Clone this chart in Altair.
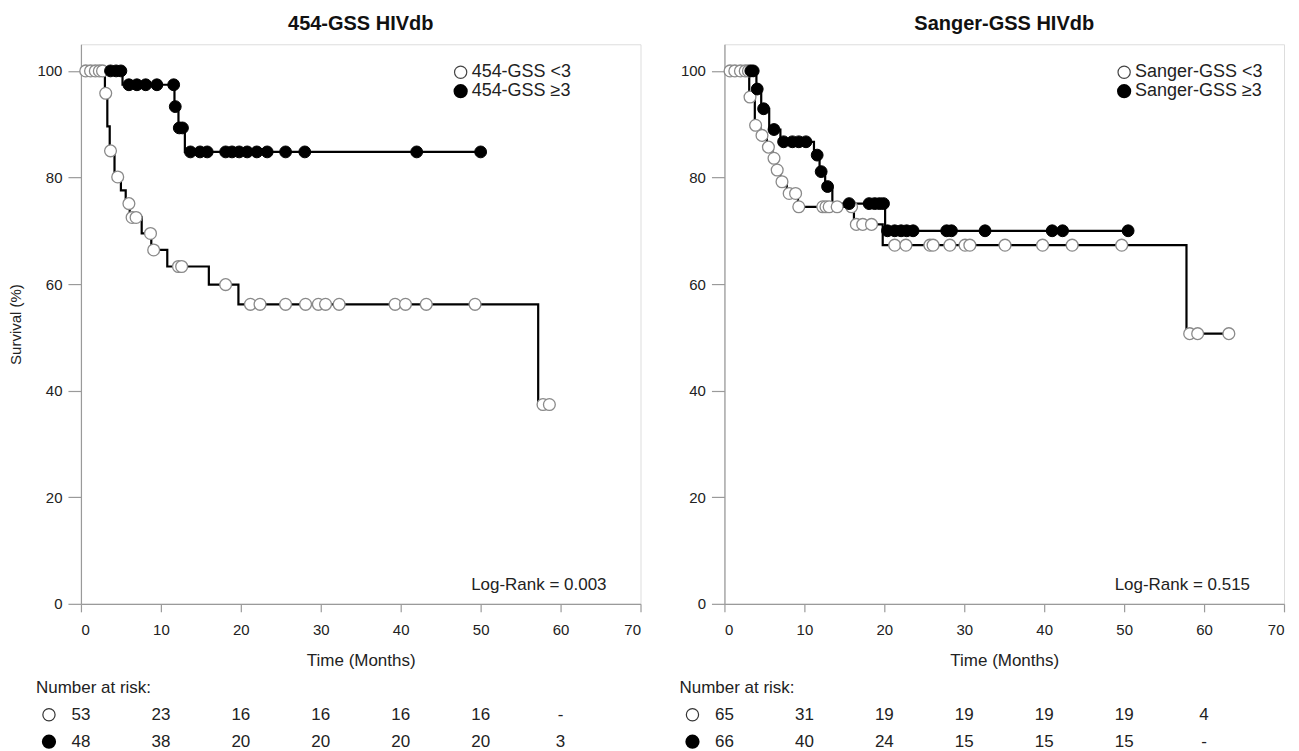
import altair as alt
import pandas as pd

# ---------------- data ----------------
# Left panel: 454-GSS HIVdb
L_open_step_t = [0, 3.0, 3.3, 3.6, 4.2, 5.0, 5.6, 6.1, 7.6, 8.8, 10.8, 16.0, 19.7, 57.2, 58.6]
L_open_step_s = [100, 95.8, 89.6, 85.0, 80.1, 77.6, 75.1, 72.5, 69.5, 66.4, 63.3, 59.9, 56.2, 37.4, 37.4]
L_open_cens_t = [0.6, 1.2, 1.8, 2.3, 2.7, 3.1, 3.7, 4.6, 6.0, 6.4, 6.9, 8.7, 9.1, 12.2, 12.6, 18.1,
                 21.2, 22.4, 25.6, 28.1, 29.7, 30.6, 32.3, 39.3, 40.6, 43.2, 49.3, 57.8, 58.6]
L_open_cens_s = [100, 100, 100, 100, 100, 95.8, 85.0, 80.1, 75.1, 72.5, 72.5, 69.5, 66.4, 63.3, 63.3, 59.9,
                 56.2, 56.2, 56.2, 56.2, 56.2, 56.2, 56.2, 56.2, 56.2, 56.2, 56.2, 37.4, 37.4]
L_fill_step_t = [0, 5.2, 11.7, 12.2, 13.0, 50.0]
L_fill_step_s = [100, 97.4, 93.3, 89.3, 84.8, 84.8]
L_fill_cens_t = [3.7, 4.4, 5.0, 6.0, 7.0, 8.1, 9.5, 11.6, 11.8, 12.3, 12.7, 13.7, 14.9, 15.8, 18.1,
                 18.9, 19.8, 20.8, 22.0, 23.3, 25.6, 28.0, 42.0, 50.0]
L_fill_cens_s = [100, 100, 100, 97.4, 97.4, 97.4, 97.4, 97.4, 93.3, 89.3, 89.3, 84.8, 84.8, 84.8, 84.8,
                 84.8, 84.8, 84.8, 84.8, 84.8, 84.8, 84.8, 84.8, 84.8]
L_legend = ["454-GSS <3", "454-GSS \u22653"]
L_logrank = "Log-Rank = 0.003"
L_risk_open = ["53", "23", "16", "16", "16", "16", "-"]
L_risk_fill = ["48", "38", "20", "20", "20", "20", "3"]

# Right panel: Sanger-GSS HIVdb
R_open_step_t = [0, 3.1, 3.8, 4.5, 5.3, 6.0, 6.5, 7.0, 7.8, 9.2, 16.2, 19.8, 57.8, 63.1]
R_open_step_s = [100, 95.1, 89.8, 87.9, 85.7, 83.6, 81.4, 79.2, 77.0, 74.5, 71.2, 67.3, 50.7, 50.7]
R_open_cens_t = [0.7, 1.3, 2.0, 2.6, 3.0, 3.2, 3.9, 4.7, 5.5, 6.2, 6.6, 7.2, 8.1, 8.9, 9.3, 12.3, 12.7,
                 13.1, 14.1, 15.9, 16.5, 17.3, 18.4, 21.3, 22.7, 25.7, 26.1, 28.2, 30.1, 30.7, 35.1,
                 39.8, 43.5, 49.7, 58.2, 59.2, 63.1]
R_open_cens_s = [100, 100, 100, 100, 100, 95.1, 89.8, 87.9, 85.7, 83.6, 81.4, 79.2, 77.0, 77.0, 74.5,
                 74.5, 74.5, 74.5, 74.5, 74.5, 71.2, 71.2, 71.2, 67.3, 67.3, 67.3, 67.3, 67.3, 67.3,
                 67.3, 67.3, 67.3, 67.3, 67.3, 50.7, 50.7, 50.7]
R_fill_step_t = [0, 4.0, 4.6, 5.6, 7.0, 11.2, 11.9, 12.6, 13.5, 20.1, 50.5]
R_fill_step_s = [100, 96.6, 92.9, 89.0, 86.7, 84.2, 81.1, 78.3, 75.1, 70.0, 70.0]
R_fill_cens_t = [3.3, 3.6, 4.1, 4.9, 6.2, 7.4, 8.5, 9.3, 10.2, 11.6, 12.1, 12.9, 15.6, 18.1, 18.8,
                 19.4, 19.9, 20.4, 21.3, 22.1, 22.8, 23.6, 27.8, 28.4, 32.6, 41.0, 42.3, 50.5]
R_fill_cens_s = [100, 100, 96.6, 92.9, 89.0, 86.7, 86.7, 86.7, 86.7, 84.2, 81.1, 78.3, 75.1, 75.1, 75.1,
                 75.1, 75.1, 70.0, 70.0, 70.0, 70.0, 70.0, 70.0, 70.0, 70.0, 70.0, 70.0, 70.0]
R_legend = ["Sanger-GSS <3", "Sanger-GSS \u22653"]
R_logrank = "Log-Rank = 0.515"
R_risk_open = ["65", "31", "19", "19", "19", "19", "4"]
R_risk_fill = ["66", "40", "24", "15", "15", "15", "-"]

risk_times = [0, 10, 20, 30, 40, 50, 60]
x_ticks = [0, 10, 20, 30, 40, 50, 60, 70]
y_ticks = [0, 20, 40, 60, 80, 100]

# ---------------- styling ----------------
FONT = "Liberation Sans"
W, H = 560, 560
TXT = "#222222"
AXC = "#9a9a9a"
OPEN_STROKE = "#8a8a8a"


def panel(title, so_t, so_s, sf_t, sf_s, co_t, co_s, cf_t, cf_s, legend, logrank,
          risk_o, risk_f, ytitle, leg_x):
    xs = alt.Scale(domain=[0, 70], nice=False, zero=False)
    ys = alt.Scale(domain=[0, 105], nice=False)
    xax = alt.Axis(values=x_ticks, title="Time (Months)", grid=False, format="d",
                   tickSize=8, labelPadding=11, titlePadding=15, titleFontSize=17,
                   titleFontWeight="normal", labelFontSize=15, labelFont=FONT,
                   labelColor=TXT, titleColor=TXT, titleFont=FONT,
                   domainColor=AXC, tickColor=AXC, domainWidth=1.2, tickWidth=1.2)
    yax = alt.Axis(values=y_ticks, title=ytitle, grid=False, format="d",
                   tickSize=13, labelPadding=6, titlePadding=13, titleFontSize=15,
                   titleFontWeight="normal", labelFontSize=15, labelFont=FONT,
                   labelColor=TXT, titleColor=TXT, titleFont=FONT,
                   domainColor=AXC, tickColor=AXC, domainWidth=1.2, tickWidth=1.2)

    def X():
        return alt.X("t:Q", scale=xs, axis=xax)

    def Y():
        return alt.Y("s:Q", scale=ys, axis=yax)

    so = pd.DataFrame({"t": so_t, "s": so_s})
    sf = pd.DataFrame({"t": sf_t, "s": sf_s})
    co = pd.DataFrame({"t": co_t, "s": co_s})
    cf = pd.DataFrame({"t": cf_t, "s": cf_s})

    line_o = alt.Chart(so).mark_line(interpolate="step-after", color="black",
                                     strokeWidth=2.2).encode(x=X(), y=Y())
    line_f = alt.Chart(sf).mark_line(interpolate="step-after", color="black",
                                     strokeWidth=2.2).encode(x=X(), y=Y())
    pts_o = alt.Chart(co).mark_point(shape="circle", filled=True, fill="white",
                                     stroke=OPEN_STROKE, strokeWidth=1.3, size=140,
                                     opacity=1).encode(x=X(), y=Y())
    pts_f = alt.Chart(cf).mark_point(shape="circle", filled=True, fill="black",
                                     stroke="black", strokeWidth=1, size=140,
                                     opacity=1).encode(x=X(), y=Y())

    # in-plot legend
    lg = pd.DataFrame({"label": legend})
    leg_sym_o = alt.Chart(lg.iloc[[0]]).mark_point(shape="circle", filled=True, fill="white",
                                                   stroke="#444", strokeWidth=1.2, size=150,
                                                   opacity=1).encode(x=alt.value(leg_x), y=alt.value(28))
    leg_sym_f = alt.Chart(lg.iloc[[1]]).mark_point(shape="circle", filled=True, fill="black",
                                                   stroke="black", size=150,
                                                   opacity=1).encode(x=alt.value(leg_x), y=alt.value(47))
    leg_txt_o = alt.Chart(lg.iloc[[0]]).mark_text(align="left", baseline="middle", font=FONT,
                                                  fontSize=18, color=TXT).encode(
        text="label:N", x=alt.value(leg_x + 11), y=alt.value(28))
    leg_txt_f = alt.Chart(lg.iloc[[1]]).mark_text(align="left", baseline="middle", font=FONT,
                                                  fontSize=18, color=TXT).encode(
        text="label:N", x=alt.value(leg_x + 11), y=alt.value(47))

    lr = alt.Chart(pd.DataFrame({"label": [logrank]})).mark_text(
        align="right", baseline="middle", font=FONT, fontSize=17, color=TXT).encode(
        text="label:N", x=alt.value(526), y=alt.value(541))

    # number at risk table (below the axis)
    nar = alt.Chart(pd.DataFrame({"label": ["Number at risk:"]})).mark_text(
        align="left", baseline="middle", font=FONT, fontSize=17, color=TXT).encode(
        text="label:N", x=alt.value(-45), y=alt.value(644))
    ro = pd.DataFrame({"t": risk_times, "n": risk_o})
    rf = pd.DataFrame({"t": risk_times, "n": risk_f})
    risk_o_txt = alt.Chart(ro).mark_text(align="center", baseline="middle", font=FONT,
                                         fontSize=17, color=TXT).encode(
        x=X(), y=alt.value(671), text="n:N")
    risk_f_txt = alt.Chart(rf).mark_text(align="center", baseline="middle", font=FONT,
                                         fontSize=17, color=TXT).encode(
        x=X(), y=alt.value(698), text="n:N")
    icon = pd.DataFrame({"k": ["o"]})
    icon_o = alt.Chart(icon).mark_point(shape="circle", filled=True, fill="white", stroke="#333",
                                        strokeWidth=1.2, size=150, opacity=1).encode(
        x=alt.value(-32), y=alt.value(671))
    icon_f = alt.Chart(icon).mark_point(shape="circle", filled=True, fill="black", stroke="black",
                                        size=150, opacity=1).encode(
        x=alt.value(-32), y=alt.value(698))

    return alt.layer(line_o, line_f, pts_o, pts_f, leg_sym_o, leg_sym_f, leg_txt_o, leg_txt_f,
                     lr, nar, risk_o_txt, risk_f_txt, icon_o, icon_f).properties(
        width=W, height=H,
        title=alt.TitleParams(title, fontSize=20, fontWeight="bold", font=FONT, color="#111",
                              anchor="middle", offset=10))


left = panel("454-GSS HIVdb", L_open_step_t, L_open_step_s, L_fill_step_t, L_fill_step_s,
             L_open_cens_t, L_open_cens_s, L_fill_cens_t, L_fill_cens_s, L_legend, L_logrank,
             L_risk_open, L_risk_fill, "Survival (%)", 380)
right = panel("Sanger-GSS HIVdb", R_open_step_t, R_open_step_s, R_fill_step_t, R_fill_step_s,
              R_open_cens_t, R_open_cens_s, R_fill_cens_t, R_fill_cens_s, R_legend, R_logrank,
              R_risk_open, R_risk_fill, None, 400)

chart = alt.hconcat(left, right, spacing=36).properties(
    padding={"left": 0, "top": 5, "right": 5, "bottom": 2}
).configure_view(stroke=None).configure(background="white")

chart.save("out.html", embed_options={"renderer": "svg", "actions": False})
